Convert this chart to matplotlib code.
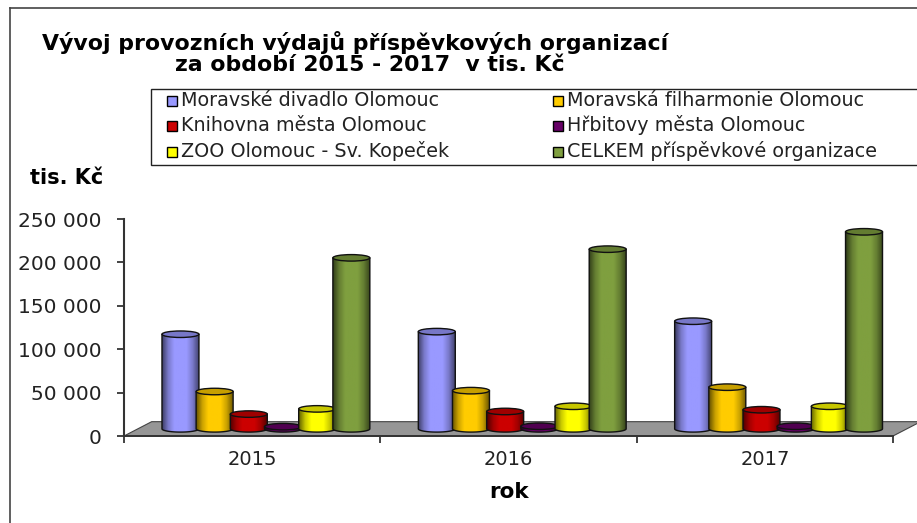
import numpy as np
import matplotlib
matplotlib.use("Agg")
import matplotlib.pyplot as plt
from matplotlib.colors import LinearSegmentedColormap, to_rgb
from matplotlib.patches import Ellipse, Polygon, Rectangle

years = ["2015", "2016", "2017"]
series = [
    "Moravské divadlo Olomouc",
    "Moravská filharmonie Olomouc",
    "Knihovna města Olomouc",
    "Hřbitovy města Olomouc",
    "ZOO Olomouc - Sv. Kopeček",
    "CELKEM příspěvkové organizace",
]
divadlo = [109000, 112000, 124000]
filharmonie = [43000, 44000, 48000]
knihovna = [17000, 20000, 22000]
hrbitovy = [2500, 3000, 3000]
zoo = [23000, 26000, 26000]
celkem = [197000, 207000, 227000]
values = [divadlo, filharmonie, knihovna, hrbitovy, zoo, celkem]
colors = ["#9999FF", "#FFCC00", "#CC0000", "#660066", "#FFFF00", "#7F9F3F"]
yticks = [0, 50000, 100000, 150000, 200000, 250000]

W, H = 917, 523
FONT = "DejaVu Sans"
plt.rcParams["font.family"] = FONT


def fx(x):
    return x / W


def fy(y):
    return 1 - y / H


def shade(col, f):
    return tuple(c * f for c in to_rgb(col))


fig = plt.figure(figsize=(W / 100, H / 100), dpi=100)
ax = fig.add_axes([fx(124), fy(436), 769 / W, 217 / H])
ax.patch.set_visible(False)
ax.set_xlim(0, 3)
ax.set_ylim(0, 250000)
ax.set_xticks([0, 1, 2, 3])
ax.set_xticklabels([])
ax.set_xticks([0.5, 1.5, 2.5], minor=True)
ax.set_xticklabels(years, minor=True, fontsize=14, color="#222222")
ax.tick_params(axis="x", which="minor", length=0, pad=10)
ax.tick_params(axis="x", which="major", length=5, width=1.2, color="#222222")
ax.set_yticks(yticks)
ax.set_yticklabels([f"{v:,}".replace(",", " ") for v in yticks], fontsize=14.5, color="#222222")
ax.tick_params(axis="y", length=5, width=1.2, color="#222222", pad=11)
for s in ["top", "right", "bottom"]:
    ax.spines[s].set_visible(False)
ax.spines["left"].set_linewidth(1.5)
ax.spines["left"].set_color("#333333")

# floor of the 3d chart
depth_x = 0.108
depth_y = 16500
ax.add_patch(Polygon([(0, 0), (3, 0), (3 + depth_x, depth_y), (depth_x, depth_y)],
                     closed=True, facecolor="#969696", edgecolor="#444444",
                     linewidth=0.8, clip_on=False, zorder=1))
ax.plot([0, 3], [-500, -500], color="#333333", lw=1.4, clip_on=False, zorder=2)

base = depth_y / 2
bar_w = 37 / 256.5
step = 34.2 / 256.5
first = 38 / 256.5
ell_h = 7500
t = np.linspace(0, np.pi, 40)

z = 3
for k in range(3):
    for j, (vals, col) in enumerate(zip(values, colors)):
        v = vals[k]
        xc = k + first + j * step + bar_w / 2
        ax.bar(xc, v, width=bar_w, bottom=base, color=col, clip_on=False, zorder=z)
        cmap = LinearSegmentedColormap.from_list(
            "c" + str(j), [shade(col, .4), shade(col, .8), col, col, col, shade(col, .8), shade(col, .45)])
        # cylinder body with rounded bottom
        xs = xc - np.cos(t) * bar_w / 2
        ys = base - np.sin(t) * ell_h / 2
        pts = list(zip(xs, ys)) + [(xc + bar_w / 2, base + v), (xc - bar_w / 2, base + v)]
        body = Polygon(pts, closed=True, facecolor="none", edgecolor="#111111",
                       linewidth=1.0, clip_on=False, zorder=z + 2)
        ax.add_patch(body)
        grad = ax.imshow(np.linspace(0, 1, 64).reshape(1, -1), cmap=cmap, aspect="auto",
                         extent=[xc - bar_w / 2, xc + bar_w / 2, base - ell_h, base + v],
                         zorder=z + 1)
        clip = Polygon(pts, closed=True, transform=ax.transData)
        grad.set_clip_path(clip)
        ax.add_patch(Ellipse((xc, base + v), bar_w, ell_h, facecolor=shade(col, .78),
                             edgecolor="#111111", linewidth=1.0, clip_on=False, zorder=z + 3))
        z += 4
ax.set_xlim(0, 3)
ax.set_ylim(0, 250000)

# outer frame of the chart
fig.add_artist(plt.Line2D([fx(9.5), fx(9.5)], [0, fy(8)], color="#444444", lw=1.2))
fig.add_artist(plt.Line2D([fx(9.5), 1], [fy(8), fy(8)], color="#444444", lw=1.2))

fig.text(fx(42), fy(42), "Vývoj provozních výdajů příspěvkových organizací",
         fontsize=15.8, fontweight="bold", va="center", ha="left")
fig.text(fx(175), fy(65), "za období 2015 - 2017  v tis. Kč",
         fontsize=15.8, fontweight="bold", va="center", ha="left")
fig.text(fx(30), fy(178), "tis. Kč", fontsize=15, fontweight="bold", va="center", ha="left")
fig.text(fx(509), fy(492), "rok", fontsize=15.5, fontweight="bold", va="center", ha="center")

# legend box runs off the right edge of the picture, entries placed by hand on fixed rows
fig.add_artist(Rectangle((fx(151), fy(165)), 1, 76 / H, transform=fig.transFigure,
                         facecolor="white", edgecolor="#222222", linewidth=1.0, zorder=50))
col_x = [167, 553]
row_y = [101, 126, 152]
for i, (name, col) in enumerate(zip(series, colors)):
    sx = col_x[i % 2]
    sy = row_y[i // 2]
    fig.add_artist(Rectangle((fx(sx), fy(sy + 5)), 10 / W, 10 / H, transform=fig.transFigure,
                             facecolor=col, edgecolor="black", linewidth=1.0, zorder=51))
    fig.text(fx(sx + 14), fy(sy + 5), name, fontsize=13.8, color="#222222",
             va="baseline", ha="left", zorder=52)

fig.savefig("out.png", dpi=100)
